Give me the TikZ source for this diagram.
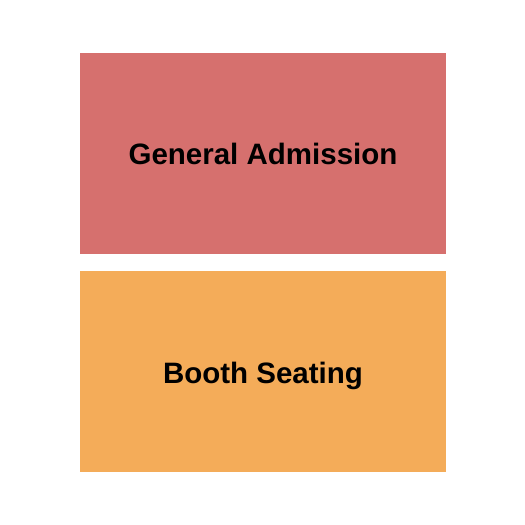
\documentclass[tikz,border=0pt]{standalone}
\usepackage{fontspec}
\setmainfont{Liberation Sans}
\definecolor{garea}{RGB}{214,112,110}
\definecolor{barea}{RGB}{244,172,89}
\begin{document}
\begin{tikzpicture}[x=1pt,y=-1pt,
  area/.style={draw=none,minimum width=366pt,inner sep=0pt,anchor=north west},
  lbl/.style={font=\fontsize{29.5pt}{34pt}\selectfont\bfseries,text=black,inner sep=0pt,anchor=base}]
\useasboundingbox (0,0) rectangle (525,525);
\node[area,fill=garea,minimum height=201pt] (ga) at (80,53) {};
\node[area,fill=barea,minimum height=201pt] (bs) at (80,271) {};
\node[lbl] (gat) at (263,164) {General Admission};
\node[lbl] (bst) at (263,383) {Booth Seating};
\end{tikzpicture}
\end{document}
